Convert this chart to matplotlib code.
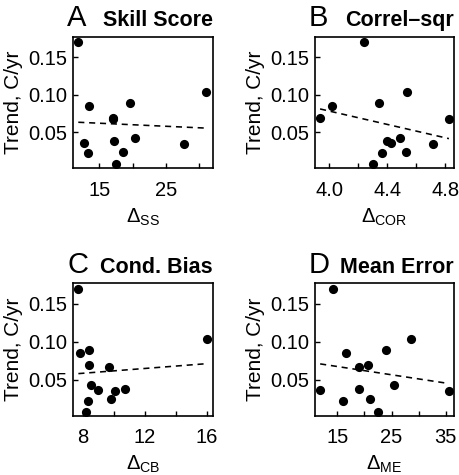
import numpy as np
import matplotlib
matplotlib.use("Agg")
import matplotlib.pyplot as plt
from matplotlib.ticker import MultipleLocator, FormatStrFormatter

plt.rcParams["font.family"] = ["Liberation Sans", "DejaVu Sans"]
plt.rcParams["mathtext.fontset"] = "custom"
plt.rcParams["mathtext.rm"] = "Liberation Sans"
plt.rcParams["mathtext.it"] = "Liberation Sans:italic"
plt.rcParams["mathtext.bf"] = "Liberation Sans:bold"

# ── data: trend (C/yr) for 13 cases vs. each metric ──
trend = [0.170, 0.103, 0.085, 0.089, 0.069, 0.067, 0.038, 0.036, 0.035, 0.043, 0.022, 0.024, 0.008]

delta_ss = [11.85, 31.0, 13.45, 19.6, 17.1, 17.1, 17.2, 12.7, 27.7, 20.4, 13.25, 18.6, 17.5]
delta_cor = [4.24, 4.535, 4.015, 4.34, 3.935, 4.825, 4.40, 4.425, 4.715, 4.49, 4.36, 4.53, 4.30]
delta_cb = [7.7, 16.0, 7.8, 8.4, 8.4, 9.7, 10.7, 8.95, 10.05, 8.5, 8.35, 9.8, 8.2]
delta_me = [14.2, 28.6, 16.6, 23.9, 20.7, 19.0, 19.0, 11.85, 35.5, 25.4, 16.0, 20.95, 22.5]

letters = ["A", "B", "C", "D"]
titles = ["Skill Score", "Correl\u2013sqr", "Cond. Bias", "Mean Error"]
xlabels = [r"$\Delta_{\mathrm{SS}}$", r"$\Delta_{\mathrm{COR}}$",
           r"$\Delta_{\mathrm{CB}}$", r"$\Delta_{\mathrm{ME}}$"]
xlims = [(11.1, 32.0), (3.90, 4.86), (7.37, 16.4), (10.9, 36.5)]
major = [10, 0.4, 4, 10]
minor = [5, 0.2, 2, 5]
first_tick = [15, 4.0, 8, 15]
fmts = ["%d", "%.1f", "%d", "%d"]
xs = [delta_ss, delta_cor, delta_cb, delta_me]

W, H = 460, 475
fig = plt.figure(figsize=(W / 100, H / 100), dpi=100)

# axes boxes in pixels: left, top, right, bottom
boxes = [(73.3, 36.7, 212.7, 168.0), (315, 36.7, 454, 168.0),
         (73.3, 283.3, 212.7, 415.7), (315, 283.3, 454, 415.7)]

for i in range(4):
    l, t, r, b = boxes[i]
    ax = fig.add_axes([l / W, 1 - b / H, (r - l) / W, (b - t) / H])
    x = np.array(xs[i])
    y = np.array(trend)
    ax.plot(x, y, "o", color="black", markersize=6.6, markeredgewidth=0)

    # least-squares trend line
    k, c = np.polyfit(x, y, 1)
    xx = np.array([x.min(), x.max()])
    ax.plot(xx, k * xx + c, color="black", lw=1.15, dashes=(3.8, 3.0))

    ax.set_xlim(*xlims[i])
    ax.set_ylim(0.0025, 0.177)
    ax.xaxis.set_minor_locator(MultipleLocator(minor[i]))
    ax.xaxis.set_major_formatter(FormatStrFormatter(fmts[i]))
    ax.set_xticks(np.arange(first_tick[i], xlims[i][1], major[i]))
    ax.set_yticks([0.05, 0.10, 0.15])
    ax.yaxis.set_major_formatter(FormatStrFormatter("%.2f"))

    ax.tick_params(which="both", direction="in", top=False, right=False,
                   width=1.0, length=3.5)
    ax.tick_params(axis="x", which="major", labelsize=14.5, pad=9)
    ax.tick_params(axis="y", which="major", labelsize=14.5, pad=4)
    for s in ax.spines.values():
        s.set_linewidth(1.2)

    ax.set_ylabel("Trend, C/yr", fontsize=15)
    ax.yaxis.set_label_coords(-0.36, 0.5)
    ax.set_xlabel(xlabels[i], fontsize=14.5, labelpad=5)

    ax.text(-0.045, 1.08, letters[i], transform=ax.transAxes, fontsize=21,
            ha="left", va="baseline")
    ax.text(1.0, 1.08, titles[i], transform=ax.transAxes, fontsize=15.5,
            fontweight="bold", ha="right", va="baseline")

fig.savefig("out.png", dpi=100)
